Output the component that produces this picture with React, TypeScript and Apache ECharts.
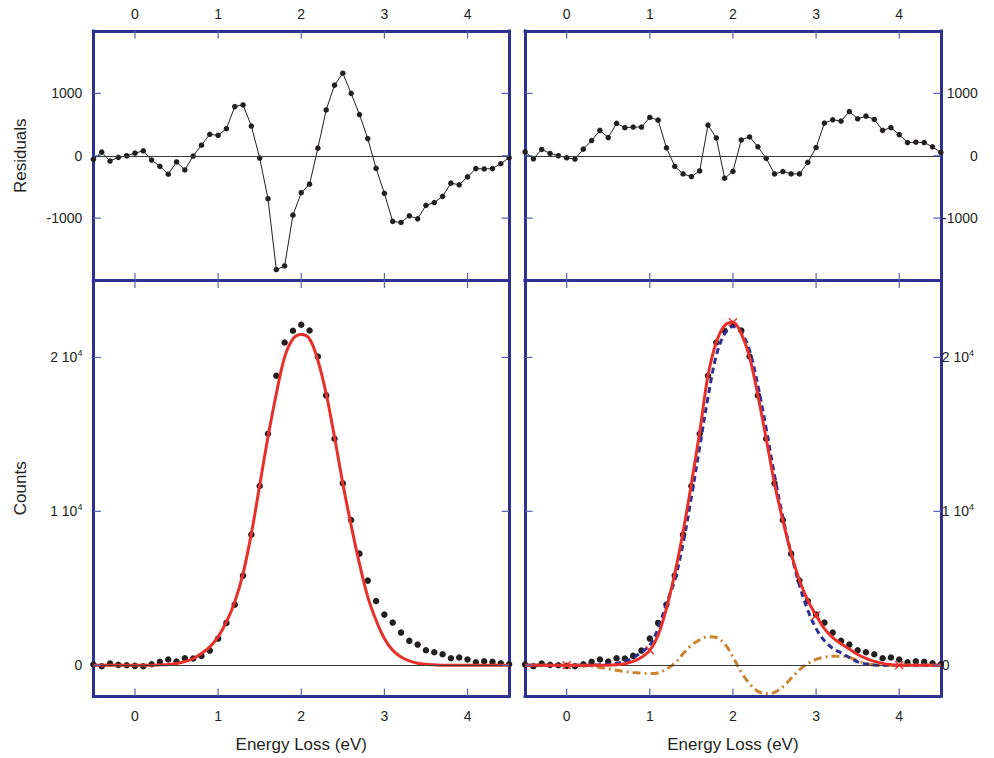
import React, { useEffect, useRef } from "react";
import * as echarts from "echarts";

// Energy loss grid (eV)
const energy = [
  -0.5, -0.4, -0.3, -0.2, -0.1, 0, 0.1, 0.2, 0.3, 0.4, 0.5, 0.6, 0.7, 0.8, 0.9, 1, 1.1, 1.2, 1.3, 1.4,
  1.5, 1.6, 1.7, 1.8, 1.9, 2, 2.1, 2.2, 2.3, 2.4, 2.5, 2.6, 2.7, 2.8, 2.9, 3, 3.1, 3.2, 3.3, 3.4,
  3.5, 3.6, 3.7, 3.8, 3.9, 4, 4.1, 4.2, 4.3, 4.4, 4.5,
];

// Measured counts (same data in both panels)
const counts = [
  43, -65, 108, 22, 0, -43, -65, 65, 216, 368, 238, 455, 433, 606, 952, 1732, 2749, 3939, 5823, 8485,
  11645, 15043, 18810, 20974, 21732, 22121, 21753, 20065, 17532, 14719, 11818, 9437, 7251, 5498, 4177, 3290, 2771, 2121, 1580, 1342,
  974, 844, 714, 455, 498, 368, 195, 260, 216, 130, 65,
];

// Residuals, left fit
const residLeft = [
  -58, 58, -85, -26, 0, 42, 79, -69, -169, -296, -100, -227, -5, 169, 344, 328, 434, 788, 815, 476,
  -37, -688, -1825, -1767, -952, -593, -455, 122, 735, 1132, 1323, 1000, 661, 275, -201, -603, -1053, -1069, -963, -1011,
  -794, -751, -651, -439, -466, -339, -206, -212, -206, -127, -32,
];

// Residuals, right fit
const residRight = [
  63, -48, 101, 37, 0, -32, -53, 106, 243, 407, 291, 519, 450, 460, 460, 614, 571, 127, -169, -291,
  -333, -243, 492, 286, -360, -249, 254, 302, 143, -42, -291, -254, -291, -291, -106, 132, 524, 577, 556, 709,
  593, 635, 582, 407, 450, 339, 212, 217, 212, 143, 53,
];

// Left fit curve (single peak)
const fitLeft = [
  0, 0, 0, 0, 0, 0, 0, 0, 20, 50, 110, 230, 435, 760, 1190, 1840, 2810, 4110, 5950, 8550,
  11690, 14825, 17640, 20020, 21210, 21490, 21210, 19800, 17640, 14825, 11800, 9090, 6600, 4440, 2920, 1730, 970, 540, 280, 130,
  60, 25, 0, 0, 0, 0, 0, 0, 0, 0, 0,
];

// Right fit: total (red), main component (blue dashed), correction (orange dash-dot)
const fitRight = [
  0, 0, 0, 0, 0, 0, 0, 0, 0, 0, 0, 30, 100, 250, 520, 970, 1950, 3680, 5950, 8660,
  11800, 15150, 18830, 20990, 22080, 22290, 21540, 20020, 17530, 14720, 11800, 9415, 7250, 5520, 4220, 3250, 2380, 1800, 1400, 1050,
  700, 450, 250, 120, 40, 0, 0, 0, 0, 0, 0,
];
const mainRight = [
  0, 0, 0, 0, 0, 0, 0, 0, 0, 30, 60, 130, 250, 480, 850, 1300, 2400, 4000, 5520, 7900,
  10930, 14180, 17420, 20130, 21540, 22010, 21640, 20450, 18180, 15370, 12340, 9630, 7250, 5195, 3570, 2380, 1600, 1100, 800, 500,
  220, 80, 20, 0, 0, 0, 0, 0, 0, 0, 0,
];
const corrRight = [
  0, 0, 0, 0, 0, 0, -20, -40, -60, -150, -230, -330, -410, -470, -510, -540, -500, -250, 120, 750,
  1300, 1650, 1850, 1800, 1400, 540, -450, -1200, -1700, -1840, -1760, -1400, -850, -300, 100, 380, 520, 590, 590, 500,
  300, 100, 20, 0, 0, 0, 0, 0, 0, 0, 0,
];

// Knot markers on the right fit
const knotEnergies = [0, 1, 2, 3, 4];

const xTicks = [0, 1, 2, 3, 4];
const residTicks = [-1000, 0, 1000];
const countTicks = [0, 10000, 20000];

// Axis ranges
const X_RANGE = [-0.5, 4.5];
const RES_RANGE = [-2000, 2000];
const CNT_RANGE = [-2000, 25000];

const BLUE = "#2e3192";
const TICK_BLUE = "#5a62ad";
const INK = "#231f20";
const RED = "#e8302a";
const ORANGE = "#cc8430";
const FONT = "Liberation Sans";
const TICK_LEN = 7.5;

const pairs = (ys: number[]) => energy.map((e, i) => [e, ys[i]]);

const countFmt = (v: number) => (v === 0 ? "0" : `{n|${v / 10000} 10}{s|4}`);
const rich = {
  n: { fontSize: 14, color: INK, fontFamily: FONT },
  s: { fontSize: 9, color: INK, fontFamily: FONT, padding: [0, 0, 8, 0] },
};

export default function App() {
  const ref = useRef<HTMLDivElement>(null);

  useEffect(() => {
    if (!ref.current) return;
    const chart = echarts.init(ref.current, null, { renderer: "svg" });

    const L = 93.4;
    const R = 525.1;
    const W = 415.7;
    const T = 31;
    const H1 = 249.5;
    const H2 = 415.5;

    const grid = (left: number, top: number, height: number) => ({
      left,
      top,
      width: W,
      height,
      show: false,
    });

    const frameLine = {
      show: true,
      onZero: false,
      lineStyle: { color: BLUE, width: 3, cap: "square" },
    };

    const xAxis = (gridIndex: number, position: string, labels: boolean, margin = 10, name?: string) => ({
      type: "value",
      gridIndex,
      position,
      min: X_RANGE[0],
      max: X_RANGE[1],
      axisLine: frameLine,
      splitLine: { show: false },
      axisTick: { show: false },
      axisLabel: {
        show: labels,
        customValues: xTicks,
        fontSize: 14,
        fontFamily: FONT,
        color: INK,
        margin,
        formatter: (v: number) => String(v),
      },
      name,
      nameLocation: "middle",
      nameGap: 40,
      nameTextStyle: { fontSize: 17, fontFamily: FONT, color: INK },
    });

    const yAxis = (
      gridIndex: number,
      position: string,
      kind: "res" | "cnt",
      labels: boolean,
      labelOpts: any = {},
      name?: string
    ) => ({
      type: "value",
      gridIndex,
      position,
      min: kind === "res" ? RES_RANGE[0] : CNT_RANGE[0],
      max: kind === "res" ? RES_RANGE[1] : CNT_RANGE[1],
      axisLine: frameLine,
      splitLine: { show: false },
      axisTick: { show: false },
      axisLabel: {
        show: labels,
        customValues: kind === "res" ? residTicks : countTicks,
        fontSize: 14,
        fontFamily: FONT,
        color: INK,
        formatter: kind === "res" ? (v: number) => String(v) : countFmt,
        rich,
        ...labelOpts,
      },
      name,
      nameLocation: "middle",
      nameGap: 64,
      nameTextStyle: { fontSize: 17, fontFamily: FONT, color: INK },
    });

    const baseline = {
      silent: true,
      symbol: "none",
      label: { show: false },
      lineStyle: { color: "#3a3a3a", width: 1, type: "solid" },
      data: [{ yAxis: 0 }],
    };

    const residSeries = (x: number, y: number, data: number[]) => ({
      type: "line",
      xAxisIndex: x,
      yAxisIndex: y,
      data: pairs(data),
      symbol: "circle",
      symbolSize: 5.5,
      showSymbol: true,
      clip: false,
      lineStyle: { color: INK, width: 1 },
      itemStyle: { color: INK, opacity: 1 },
      markLine: baseline,
      z: 3,
    });

    const countSeries = (x: number, y: number) => ({
      type: "scatter",
      xAxisIndex: x,
      yAxisIndex: y,
      data: pairs(counts),
      symbol: "circle",
      symbolSize: 6.5,
      itemStyle: { color: INK, opacity: 1 },
      markLine: baseline,
      z: 2,
      clip: false,
    });

    const curve = (x: number, y: number, data: number[], color: string, type: any, width: number, z: number) => ({
      type: "line",
      xAxisIndex: x,
      yAxisIndex: y,
      data: pairs(data),
      showSymbol: false,
      symbol: "none",
      smooth: 0.35,
      clip: false,
      lineStyle: { color, width, type },
      z,
    });

    // Inward ticks on all four sides of a panel, positioned through the axis scales
    const tickStyle = { stroke: TICK_BLUE, lineWidth: 1.2, fill: "none" };
    const xTickSeries = (x: number, y: number, yr: number[]) => ({
      type: "custom",
      xAxisIndex: x,
      yAxisIndex: y,
      silent: true,
      clip: false,
      z: 10,
      data: xTicks.map((v) => [v, 0]),
      renderItem: (_params: any, api: any) => {
        const v = api.value(0);
        const top = api.coord([v, yr[1]]);
        const bot = api.coord([v, yr[0]]);
        return {
          type: "group",
          children: [
            { type: "line", shape: { x1: top[0], y1: top[1], x2: top[0], y2: top[1] + TICK_LEN }, style: tickStyle },
            { type: "line", shape: { x1: bot[0], y1: bot[1], x2: bot[0], y2: bot[1] - TICK_LEN }, style: tickStyle },
          ],
        };
      },
    });
    const yTickSeries = (x: number, y: number, vals: number[]) => ({
      type: "custom",
      xAxisIndex: x,
      yAxisIndex: y,
      silent: true,
      clip: false,
      z: 10,
      data: vals.map((v) => [0, v]),
      renderItem: (_params: any, api: any) => {
        const v = api.value(1);
        const lft = api.coord([X_RANGE[0], v]);
        const rgt = api.coord([X_RANGE[1], v]);
        return {
          type: "group",
          children: [
            { type: "line", shape: { x1: lft[0], y1: lft[1], x2: lft[0] + TICK_LEN, y2: lft[1] }, style: tickStyle },
            { type: "line", shape: { x1: rgt[0], y1: rgt[1], x2: rgt[0] - TICK_LEN, y2: rgt[1] }, style: tickStyle },
          ],
        };
      },
    });

    const knots = knotEnergies.map((e) => {
      const i = energy.findIndex((v) => Math.abs(v - e) < 1e-6);
      return [e, fitRight[i]];
    });

    chart.setOption({
      animation: false,
      textStyle: { fontFamily: FONT },
      grid: [grid(L, T, H1), grid(R, T, H1), grid(L, T + H1, H2), grid(R, T + H1, H2)],
      xAxis: [
        xAxis(0, "top", true, 10),
        xAxis(0, "bottom", false),
        xAxis(1, "top", true, 10),
        xAxis(1, "bottom", false),
        xAxis(2, "top", false),
        xAxis(2, "bottom", true, 13, "Energy Loss (eV)"),
        xAxis(3, "top", false),
        xAxis(3, "bottom", true, 13, "Energy Loss (eV)"),
      ],
      yAxis: [
        yAxis(0, "left", "res", true, { margin: 11 }, "Residuals"),
        yAxis(0, "right", "res", false),
        yAxis(1, "left", "res", false),
        yAxis(1, "right", "res", true, { margin: 37, align: "right" }),
        yAxis(2, "left", "cnt", true, { margin: 11 }, "Counts"),
        yAxis(2, "right", "cnt", false),
        yAxis(3, "left", "cnt", false),
        yAxis(3, "right", "cnt", true, { margin: 1 }),
      ],
      series: [
        xTickSeries(0, 0, RES_RANGE),
        yTickSeries(0, 0, residTicks),
        xTickSeries(2, 3, RES_RANGE),
        yTickSeries(2, 3, residTicks),
        xTickSeries(5, 4, CNT_RANGE),
        yTickSeries(5, 4, countTicks),
        xTickSeries(7, 7, CNT_RANGE),
        yTickSeries(7, 7, countTicks),
        residSeries(0, 0, residLeft),
        residSeries(2, 3, residRight),
        countSeries(5, 4),
        curve(5, 4, fitLeft, RED, "solid", 3, 4),
        countSeries(7, 7),
        curve(7, 7, corrRight, ORANGE, [8, 4, 2, 4], 3, 3),
        curve(7, 7, mainRight, BLUE, [6, 4], 3, 4),
        curve(7, 7, fitRight, RED, "solid", 3, 5),
        {
          type: "scatter",
          xAxisIndex: 7,
          yAxisIndex: 7,
          data: knots,
          symbol: "path://M0,0L10,10M10,0L0,10",
          symbolSize: 8,
          itemStyle: { color: "none", borderColor: RED, borderWidth: 1.3, opacity: 1 },
          z: 6,
          clip: false,
        },
      ],
    });

    return () => chart.dispose();
  }, []);

  return <div ref={ref} style={{ width: 994, height: 758, position: "absolute", left: 0, top: 0 }} />;
}
